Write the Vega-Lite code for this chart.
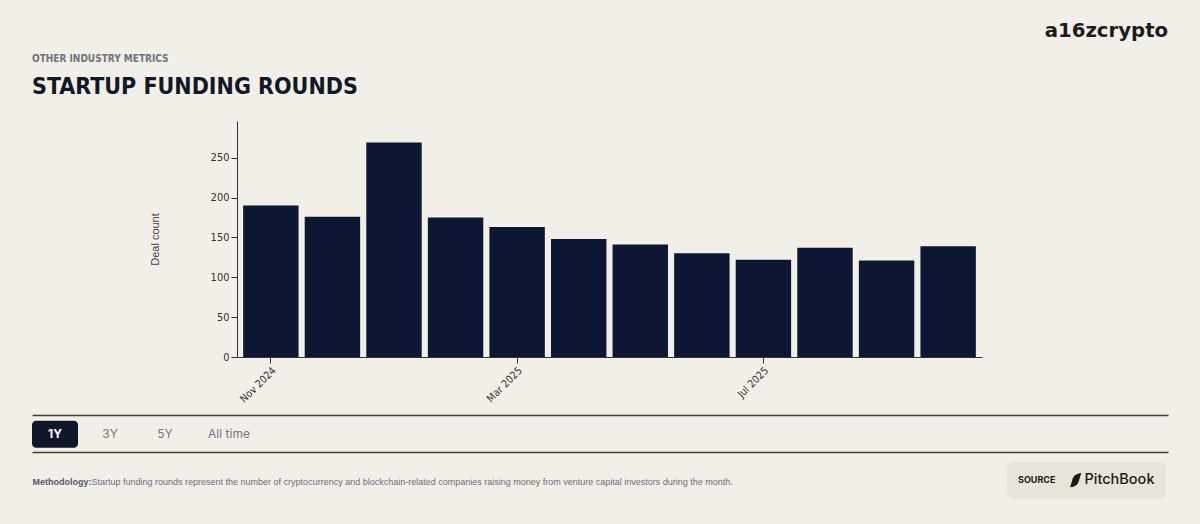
{
  "$schema": "https://vega.github.io/schema/vega-lite/v6.json",
  "width": 745,
  "height": 236,
  "autosize": {"type": "none"},
  "padding": {"left": 237, "top": 121, "right": 218, "bottom": 167},
  "background": "#f2efe8",
  "title": {
    "text": "OTHER INDUSTRY METRICS",
    "subtitle": "STARTUP FUNDING ROUNDS",
    "anchor": "start",
    "frame": "bounds",
    "offset": -78,
    "font": "DejaVu Sans Condensed, sans-serif",
    "fontSize": 10,
    "fontWeight": "bold",
    "color": "#6e737c",
    "subtitleFont": "DejaVu Sans Condensed, sans-serif",
    "subtitleFontSize": 23,
    "subtitleFontWeight": "bold",
    "subtitleColor": "#111827",
    "subtitlePadding": 12
  },
  "config": {
    "view": {"stroke": null},
    "legend": {"symbolStrokeWidth": 0}
  },
  "resolve": {"scale": {"x": "independent"}, "axis": {"x": "independent"}},
  "layer": [
    {
      "data": {
        "values": [
          {"month": "Nov 2024", "deals": 190},
          {"month": "Dec 2024", "deals": 176},
          {"month": "Jan 2025", "deals": 269},
          {"month": "Feb 2025", "deals": 175},
          {"month": "Mar 2025", "deals": 163},
          {"month": "Apr 2025", "deals": 148},
          {"month": "May 2025", "deals": 141},
          {"month": "Jun 2025", "deals": 130},
          {"month": "Jul 2025", "deals": 122},
          {"month": "Aug 2025", "deals": 137},
          {"month": "Sep 2025", "deals": 121},
          {"month": "Oct 2025", "deals": 139}
        ]
      },
      "mark": {"type": "bar", "color": "#0b1733"},
      "encoding": {
        "x": {
          "field": "month",
          "type": "nominal",
          "sort": null,
          "scale": {"paddingInner": 0.1, "paddingOuter": 0.1},
          "axis": {
            "orient": "bottom",
            "values": ["Nov 2024", "Mar 2025", "Jul 2025"],
            "labelAngle": -45,
            "labelFont": "DejaVu Sans Condensed, sans-serif",
            "labelFontSize": 10.5,
            "labelColor": "#333333",
            "tickSize": 6,
            "tickColor": "#333333",
            "domainColor": "#333333",
            "title": "Methodology:",
            "titleX": -205,
            "titleY": 124,
            "titleAlign": "left",
            "titleBaseline": "middle",
            "titleFont": "Liberation Sans",
            "titleFontSize": 9,
            "titleFontWeight": "bold",
            "titleColor": "#55595f"
          }
        },
        "y": {
          "field": "deals",
          "type": "quantitative",
          "scale": {"domain": [0, 296], "nice": false},
          "axis": {
            "title": "Deal count",
            "titlePadding": 50,
            "titleFont": "Liberation Sans",
            "titleFontSize": 11,
            "titleFontWeight": "normal",
            "titleColor": "#444444",
            "values": [0, 50, 100, 150, 200, 250],
            "labelFont": "DejaVu Sans Condensed, sans-serif",
            "labelFontSize": 11,
            "labelColor": "#333333",
            "tickSize": 6,
            "tickColor": "#333333",
            "domainColor": "#333333",
            "grid": false
          }
        }
      }
    },
    {
      "data": {
        "values": [
          {"range": "1Y"},
          {"range": "3Y"},
          {"range": "5Y"},
          {"range": "All time"}
        ]
      },
      "mark": {"type": "point", "filled": true, "opacity": 0},
      "encoding": {
        "x": {
          "field": "range",
          "type": "nominal",
          "scale": {"range": [-205, 931]},
          "axis": {
            "orient": "bottom",
            "offset": 58,
            "labels": false,
            "ticks": false,
            "title": null,
            "domainColor": "#3f3f3f",
            "domainWidth": 1.5
          }
        },
        "fill": {
          "field": "range",
          "type": "nominal",
          "scale": {
            "domain": ["1Y", "3Y", "5Y", "All time"],
            "range": ["#0f1729", "transparent", "transparent", "transparent"]
          },
          "legend": {
            "orient": "none",
            "legendX": -205,
            "legendY": 290,
            "direction": "horizontal",
            "title": null,
            "padding": 0,
            "symbolType": "M-0.826,-0.587H0.826A0.174,0.174 0 0 1 1,-0.413V0.413A0.174,0.174 0 0 1 0.826,0.587H-0.826A0.174,0.174 0 0 1 -1,0.413V-0.413A0.174,0.174 0 0 1 -0.826,-0.587Z",
            "symbolSize": 2116,
            "symbolStrokeWidth": 0,
            "symbolOpacity": 1,
            "labelOpacity": 1,
            "labelOffset": {"expr": "datum.label === 'All time' ? -14 : -23"},
            "labelAlign": "center",
            "columnPadding": 9,
            "labelFont": "Inter",
            "labelFontSize": 12,
            "labelColor": {"expr": "datum.label === '1Y' ? '#ffffff' : '#72767d'"},
            "labelFontWeight": {"expr": "datum.label === '1Y' ? 'bold' : 'normal'"}
          }
        }
      }
    },
    {
      "data": {"values": [{"source": "PitchBook"}]},
      "mark": {"type": "point", "filled": true, "opacity": 0, "color": "#1a1a1a"},
      "encoding": {
        "x": {
          "field": "source",
          "type": "nominal",
          "scale": {"range": [-205, 931]},
          "axis": {
            "orient": "bottom",
            "offset": 95,
            "labels": false,
            "ticks": false,
            "domainColor": "#3f3f3f",
            "domainWidth": 1.5,
            "title": "Startup funding rounds represent the number of cryptocurrency and blockchain-related companies raising money from venture capital investors during the month.",
            "titleX": -146,
            "titleY": 29,
            "titleAlign": "left",
            "titleBaseline": "middle",
            "titleFont": "Liberation Sans",
            "titleFontSize": 9,
            "titleFontWeight": "normal",
            "titleColor": "#6b6e73",
            "titleLimit": 1000
          }
        },
        "shape": {
          "field": "source",
          "type": "nominal",
          "scale": {"range": ["M-0.6,1L-0.2,-0.3C0,-0.8 0.5,-1 1,-1L0.6,0.3C0.4,0.8 -0.1,1 -0.6,1Z"]},
          "legend": {
            "orient": "none",
            "legendX": 770,
            "legendY": 341,
            "title": "SOURCE",
            "titleOrient": "left",
            "titleFont": "Inter",
            "titleFontSize": 9,
            "titleFontWeight": "bold",
            "titleColor": "#1a1a1a",
            "titlePadding": 11,
            "symbolSize": 196,
            "symbolStrokeWidth": 0,
            "symbolOpacity": 1,
            "symbolFillColor": "#1a1a1a",
            "labelOpacity": 1,
            "labelFont": "Inter",
            "labelFontSize": 14.5,
            "labelFontWeight": 500,
            "labelColor": "#1a1a1a",
            "labelOffset": 3,
            "padding": 11,
            "fillColor": "#e9e4d9",
            "cornerRadius": 7
          }
        }
      }
    },
    {
      "data": {"values": [{"brand": "a16zcrypto"}]},
      "mark": {"type": "point", "opacity": 0},
      "encoding": {
        "stroke": {
          "field": "brand",
          "type": "nominal",
          "scale": {"range": ["transparent"]},
          "legend": {
            "orient": "none",
            "legendX": 788,
            "legendY": -100,
            "title": null,
            "padding": 0,
            "symbolSize": 0,
            "labelOffset": 0,
            "labelOpacity": 1,
            "labelFont": "DejaVu Sans",
            "labelFontSize": 19.7,
            "labelFontWeight": "bold",
            "labelColor": "#1c1c1c",
            "labelLimit": 300
          }
        }
      }
    }
  ]
}
